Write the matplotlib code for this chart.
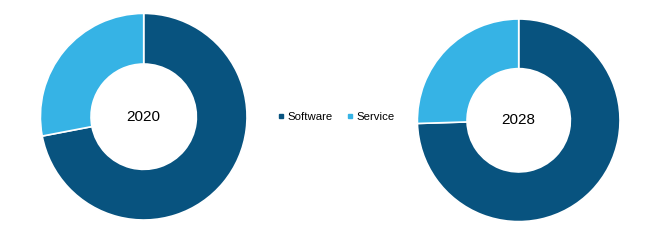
import matplotlib
matplotlib.use('Agg')
import matplotlib.pyplot as plt
from matplotlib.lines import Line2D

plt.rcParams['font.family'] = ['Liberation Sans', 'DejaVu Sans']

segments = ['Software', 'Service']
colors = ['#08537f', '#36b3e5']
years = ['2020', '2028']
share_2020 = [72.0, 28.0]
share_2028 = [74.5, 25.5]

W, H = 653, 241
fig = plt.figure(figsize=(W / 100, H / 100), dpi=100)

def donut(cx, cy, r, vals, label):
    ax = fig.add_axes([(cx - r) / W, (H - cy - r) / H, 2 * r / W, 2 * r / H])
    ax.pie(vals, colors=colors, startangle=90, counterclock=False,
           radius=1, wedgeprops=dict(width=0.49, edgecolor='white', linewidth=1.2))
    ax.set_xlim(-1, 1)
    ax.set_ylim(-1, 1)
    ax.text(0, 0, label, ha='center', va='center', fontsize=11, color='black')
    ax.axis('off')

donut(143.7, 116.7, 103.3, share_2020, years[0])
donut(518.7, 120.3, 101.3, share_2028, years[1])

handles = [Line2D([], [], marker='s', linestyle='none', markersize=3.5,
                  markerfacecolor=c, markeredgecolor=c) for c in colors]
fig.legend(handles, segments, loc='center', bbox_to_anchor=(336 / W, 1 - 117 / H),
           ncol=2, frameon=False, fontsize=8.2, handlelength=0.6,
           handletextpad=0.25, columnspacing=1.2)

fig.savefig('out.png', dpi=100)
